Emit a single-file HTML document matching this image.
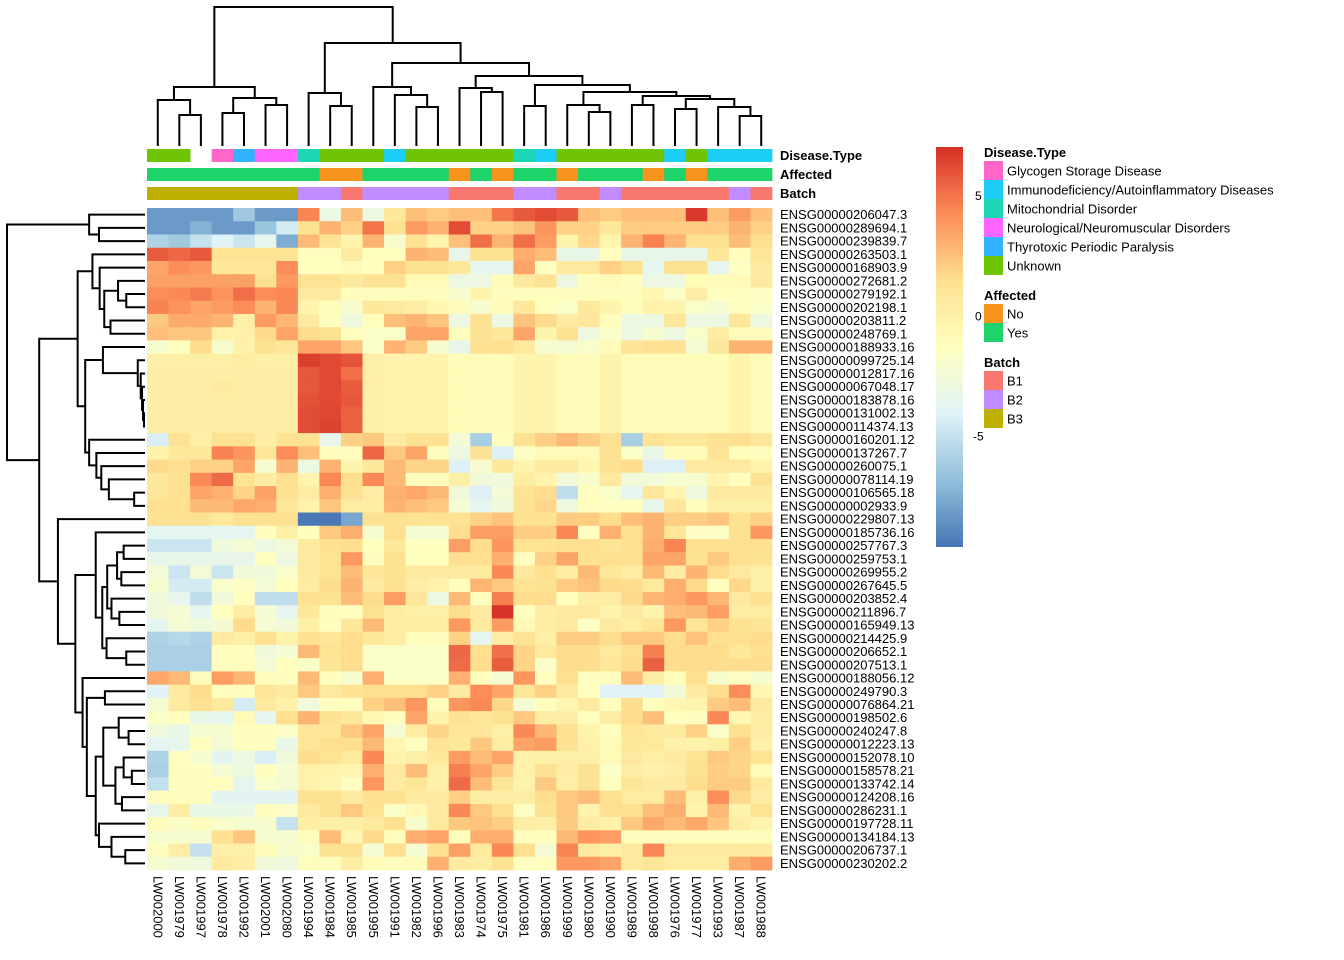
<!DOCTYPE html>
<html><head><meta charset="utf-8"><title>Heatmap</title>
<style>
html,body{margin:0;padding:0;background:#fff;}
svg{display:block;font-family:"Liberation Sans",Arial,sans-serif;}
</style></head>
<body>
<svg id="chart" width="1344" height="960" viewBox="0 0 1344 960" xmlns="http://www.w3.org/2000/svg">
<rect x="0" y="0" width="1344" height="960" fill="#ffffff"/>
<g id="cells"></g>
<g id="annos"></g>
<g id="topDendro" fill="none" stroke="#000" stroke-width="2"></g>
<g id="leftDendro" fill="none" stroke="#000" stroke-width="2"></g>
<g id="rowLabels" font-size="13" fill="#000"></g>
<g id="colLabels" font-size="13" fill="#000"></g>
<g font-size="13" font-weight="bold" fill="#000">
<text x="780" y="160">Disease.Type</text>
<text x="780" y="179">Affected</text>
<text x="780" y="198">Batch</text>
</g>
<defs>
<linearGradient id="grad" x1="0" y1="1" x2="0" y2="0">
<stop offset="0" stop-color="#4575B4"/><stop offset="0.1667" stop-color="#91BFDB"/><stop offset="0.3333" stop-color="#E0F3F8"/><stop offset="0.5" stop-color="#FFFFBF"/><stop offset="0.6667" stop-color="#FEE090"/><stop offset="0.8333" stop-color="#FC8D59"/><stop offset="1" stop-color="#D73027"/>
</linearGradient>
</defs>
<rect x="936" y="147" width="27" height="400" fill="url(#grad)"/>
<g id="scaleTicks" font-size="12" fill="#000"></g>
<g id="legend" font-size="13" fill="#000"></g>
</svg>
<script>
const rowNames = ["ENSG00000206047.3","ENSG00000289694.1","ENSG00000239839.7","ENSG00000263503.1","ENSG00000168903.9","ENSG00000272681.2","ENSG00000279192.1","ENSG00000202198.1","ENSG00000203811.2","ENSG00000248769.1","ENSG00000188933.16","ENSG00000099725.14","ENSG00000012817.16","ENSG00000067048.17","ENSG00000183878.16","ENSG00000131002.13","ENSG00000114374.13","ENSG00000160201.12","ENSG00000137267.7","ENSG00000260075.1","ENSG00000078114.19","ENSG00000106565.18","ENSG00000002933.9","ENSG00000229807.13","ENSG00000185736.16","ENSG00000257767.3","ENSG00000259753.1","ENSG00000269955.2","ENSG00000267645.5","ENSG00000203852.4","ENSG00000211896.7","ENSG00000165949.13","ENSG00000214425.9","ENSG00000206652.1","ENSG00000207513.1","ENSG00000188056.12","ENSG00000249790.3","ENSG00000076864.21","ENSG00000198502.6","ENSG00000240247.8","ENSG00000012223.13","ENSG00000152078.10","ENSG00000158578.21","ENSG00000133742.14","ENSG00000124208.16","ENSG00000286231.1","ENSG00000197728.11","ENSG00000134184.13","ENSG00000206737.1","ENSG00000230202.2"];
const colNames = ["LW002000","LW001979","LW001997","LW001978","LW001992","LW002001","LW002080","LW001994","LW001984","LW001985","LW001995","LW001991","LW001982","LW001996","LW001983","LW001974","LW001975","LW001981","LW001986","LW001999","LW001980","LW001990","LW001989","LW001998","LW001976","LW001977","LW001993","LW001987","LW001988"];
const diseaseType = ["Unknown","Unknown",null,"Glycogen Storage Disease","Thyrotoxic Periodic Paralysis","Neurological/Neuromuscular Disorders","Neurological/Neuromuscular Disorders","Mitochondrial Disorder","Unknown","Unknown","Unknown","Immunodeficiency/Autoinflammatory Diseases","Unknown","Unknown","Unknown","Unknown","Unknown","Mitochondrial Disorder","Immunodeficiency/Autoinflammatory Diseases","Unknown","Unknown","Unknown","Unknown","Unknown","Immunodeficiency/Autoinflammatory Diseases","Unknown","Immunodeficiency/Autoinflammatory Diseases","Immunodeficiency/Autoinflammatory Diseases","Immunodeficiency/Autoinflammatory Diseases"];
const affected = ["Yes","Yes","Yes","Yes","Yes","Yes","Yes","Yes","No","No","Yes","Yes","Yes","Yes","No","Yes","No","Yes","Yes","No","Yes","Yes","Yes","No","Yes","No","Yes","Yes","Yes"];
const batch = ["B3","B3","B3","B3","B3","B3","B3","B2","B2","B1","B2","B2","B2","B2","B1","B1","B1","B2","B2","B1","B1","B2","B1","B1","B1","B1","B1","B2","B1"];
const diseaseLevels = ["Glycogen Storage Disease","Immunodeficiency/Autoinflammatory Diseases","Mitochondrial Disorder","Neurological/Neuromuscular Disorders","Thyrotoxic Periodic Paralysis","Unknown"];
const affectedLevels = ["No","Yes"];
const batchLevels = ["B1","B2","B3"];
const scaleTicks = [5,0,-5];
const tail = [0.2,-0.2,-0.2,-0.2,-0.9,-0.9,-0.9,-0.3,-0.3,-0.9,-0.9,-0.3,-0.9,-0.9,-0.9,-0.9,-0.9,-0.3,-1];
const values = [
[-8.2,-8.2,-8.2,-8.2,-6.3,-8.2,-8.2,4.5,-3,2.7,-3,0.8,2.6,2.2,2.6,2.6,5,5.8,6.2,5.8,2.6,2.2,2.6,2.6,2.6,6.8,2.6,3.8,2.6],
[-8.2,-8.2,-7.3,-8.2,-8.2,-6.5,-4.5,1.3,3,2,5,1.3,3.8,3,6.2,2,2,2.5,4,2,2,0.8,2.2,2.2,2.2,2.2,2.2,3,2],
[-5.8,-6.3,-5,-4,-4.8,-3.5,-7.5,2.8,1.2,-0.3,3,-2,1.2,-0.3,2.6,5.2,3,5.2,3.8,-0.3,1.8,-0.3,3,4.6,3,1.5,1.3,2.7,1.5],
[5.7,5.4,5.8,1.2,1.2,1.2,1.2,-1.2,-1.2,0.5,-1.3,-1.3,3,2.7,-3.3,1.3,1.3,3.2,2.7,-3.3,-3.3,-1.2,-3.3,-3.3,-3.3,-3.3,1,-1.2,1],
[3.5,4.3,3.9,0.9,0.9,0.9,4.3,-1.3,-1.3,-0.8,-1.3,2,1.3,1.3,0.8,-3.5,-3.5,3.5,-1.3,0.7,0.7,2,1.3,-3.5,1.3,1.3,-3.5,-1.5,0.7],
[3.6,3.6,3.6,3.6,3.6,1.3,3.9,1.2,1.2,0.6,1.2,1.2,-0.8,-0.8,-3,-3,-0.9,0.7,1.2,-3,-1.2,-0.8,-1.2,-3,-3,-1,-1,-0.8,0.7],
[4.3,4.4,4.8,4.1,5.2,4.3,4.4,0.5,0.5,-1.1,-1.1,-1.1,-1.1,-1.1,-2,-0.3,-1.1,-1.1,-1.1,-1.1,-1.1,-1.1,-1.1,-0.5,-1.6,0.3,-1.3,-1.3,-1.5],
[4.6,4.1,3.5,3.8,4.3,3,4.4,-0.3,-1.1,-2,0.8,0.6,0.3,-0.5,-1,-2,-1,0.8,-1.2,-1.8,0.8,-0.3,-1.1,-0.1,-0.3,-1.8,-2.2,-1.4,-1.6],
[2.3,3.3,3.3,3,0.1,3.8,2.9,0.5,-1.2,-2.8,-1.1,2.6,3,2.4,-3,1.3,-3,2.5,1.7,0.4,0.9,-1.1,-3,-3,0.9,-3,-3,0.9,-3],
[2.6,2.4,2.4,0,0,1.7,3.5,1.6,1.3,-1.1,-1.6,-1.6,3.5,3.5,-1.1,1.3,0.8,3.5,-0.3,1.3,-2.8,-1.6,-3,-2,-3,-1.8,0.3,-1,-1],
[-2,-1.2,1.6,-2,0,1.3,0.8,3.5,3.5,2.4,-1.8,3,2.2,-2,-3.3,1.4,1.5,0.6,-2,-2.3,-1.8,-0.8,1.1,1.4,1.4,-2.2,0.8,3,3],
[0.2,0.2,0.2,0.2,0.4,0.2,0.2,6.6,6.3,6.0].concat(tail),
[0.3,0.3,0.3,0.3,0.3,0.3,0.3,5.9,6.3,5.2].concat(tail),
[0.3,0.3,0.3,0.5,0.3,0.3,0.3,5.9,6.3,5.7].concat(tail),
[0.3,0.3,0.3,0.3,0.3,0.3,0.3,6.1,6.3,5.9].concat(tail),
[0.3,0.3,0.3,0.3,0.3,0.3,0.3,6.2,6.4,5.6].concat(tail),
[0.3,0.3,0.3,0.3,0.3,0.3,0.3,6.2,6.5,5.6].concat(tail),
[-4.3,1.3,0.2,1.3,1.3,0.3,1.3,1.3,-3.3,2,2.3,0.5,1.3,1.3,-2.4,-6,-1.2,1.3,2.1,2.8,2.1,1.3,-6,1.2,0.8,0.8,1.3,1.5,0.9],
[-0.2,0.8,0.8,4.6,4,0.9,4.3,2.6,-1.2,-1.2,5.4,2.3,3.5,-1.2,-3,1.3,-4.2,-1.5,-0.8,-0.8,-0.8,1.3,-1.6,-3.2,-1,-1,1.1,-1.1,-1.1],
[1.7,1.5,2,2,3.5,-2,3,-2.9,3,-0.3,0.8,2.8,1.9,1.9,-4.2,-2,0.8,-0.3,0.5,0.5,-0.5,1.3,1.6,-4.2,-4.2,0.7,0.7,0.7,-0.2],
[0.8,1.3,4.4,5.3,1.2,0.4,1.5,-0.2,4.4,1.5,4.4,2.8,-1.1,-1.1,0.2,-2.6,-2.6,0.4,-0.2,-2.6,-1.9,0.7,-2.6,-2.6,-2,-2,-0.4,-1.2,1.4],
[0.9,1.4,3.5,3.1,1.9,3.6,1.3,0.4,3.1,1.3,0.3,3.1,3.4,2.8,-2.6,-4.2,-2.4,1.2,1.6,-5.2,-1.2,-1.8,-3.5,0.9,-0.4,-2.8,0.7,0.6,0.5],
[1.5,1.5,2.8,2.8,3.4,3.2,0.9,-0.1,2.4,0.4,0.4,3,2.6,2.3,-2.2,-3.6,-2.6,1.3,1.8,-2.8,-1.2,-1.4,-1.4,-3.4,0.9,-1.1,0.2,0.2,0.2],
[1.3,1.3,1.3,0.8,1.3,1.3,1.3,-9.5,-9.5,-7.8,1.3,1.3,1.3,1.3,1.3,2,2.5,1.3,1.3,2.2,2.2,1.6,2.6,3,2.1,2.1,2.4,1.3,2],
[-3.6,-3.6,-3.6,-3.6,-3.6,-1.2,0.2,-1.2,2.3,3.2,-2,1.5,-2.2,-2.2,1.6,3.7,3.7,2.1,2.1,4.4,-1.2,3.1,1.4,3,1,-1.5,-1.5,1.3,3.9],
[-4.8,-4.8,-4.8,-2.7,-2.2,-3,-2.4,0.6,1.4,1.6,-1.3,0.8,-1.3,-1.3,3.7,1.6,4,1.2,1.2,1.5,1.5,1.1,1.5,3.2,4.5,1.5,1.5,1.5,1.5],
[-3.3,-3.3,-3.3,-3.3,-3.3,-1.2,-3,0.6,1.2,3.9,-1.2,1.3,-1.3,-1.3,1.5,1.5,3.1,-1.2,2,3.5,1.4,1.5,1.5,3.5,3.5,1.3,2.3,1.5,1.3],
[-2.4,-4.8,-2.4,-4.8,-2.5,-2.5,-1.8,0.6,1.2,2.7,0.9,1.3,0.6,0.6,0.6,0.6,4.4,0.6,1.5,0.4,2.8,0.9,0.4,2.8,0.4,3,1.6,0.6,0.2],
[-2,-4.5,-4.5,-1.8,-1.4,-2.4,-1.2,0.4,1.6,3,0.5,1.3,0.3,0,-1.2,3,2.3,1.2,1.3,2.2,2.5,1.7,1.6,0.6,3.2,1.7,-1.3,1.8,0],
[-2.6,-3.5,-5.2,-2.6,-1.2,-5.2,-5.2,1.4,1.3,2.7,1.6,3.7,0.9,-3,2.8,-1.2,4.7,1.6,1.6,-1.3,0.3,0.4,1.7,2.9,3.2,3.9,2.9,0.6,1.5],
[-2.6,-2.2,-3.5,-1.3,0.4,-2.2,-3.6,0.8,-1.2,-1.3,1.3,0.4,0.2,0.2,1.6,0.5,7.0,-1.3,0.3,0.7,0.7,-0.2,0.7,-0.2,2.6,2.8,3.7,0.4,0.4],
[-3.6,-2.2,-2.7,-2.3,1.7,-2.2,-2.6,0.1,-1.2,0.9,2.8,0.4,0.4,0.4,3.9,0.7,3.8,-0.8,0.4,0.6,-1.5,0.6,0.3,1,3.9,1,2,1.3,1],
[-5.8,-5.5,-5.8,0.6,0.2,1.5,-0.1,1.4,0.9,1.6,0.8,0.4,-1.1,-1.1,2,-3.5,0.3,1.2,0.1,2.2,2.2,1.6,2.3,2.3,1.6,2.5,1.5,1.5,1.6],
[-5.9,-5.9,-5.9,-1.2,-1.2,-2.6,-2.2,2.8,1.2,1.6,-1.7,-1.7,-1.7,-1.7,5.4,1.5,5.1,1.9,0.7,1.6,1.6,0.6,1.5,4.7,1.6,1.6,1.6,0.8,1.5],
[-5.9,-5.9,-5.9,-1.2,-1.2,-2.2,-1.2,-1.6,1,1.6,-1.7,-1.7,-1.7,-1.7,5.3,1.6,5.7,1.9,-1.8,1.6,1.6,0.9,1.6,5.6,1.6,1.6,1.6,1.6,1.6],
[3.4,2.8,-1.1,3.7,2.9,-1.1,-1.2,2.8,-1.2,-2,3.1,-1.6,-1.6,-1.6,3.1,-1.2,-2.2,4,-1.2,1.5,-1.2,-1.2,2.7,0.3,-1.1,1.4,-2,-1.4,-2],
[-4,0.6,1.6,-1.2,-1.2,1,0.5,2.3,0.6,1.2,1.5,1.5,1.5,2,0.5,4.3,3.5,1,2,0.5,-1.2,-4,-4,-4,-2.5,0.5,1.6,4.3,-0.5],
[-2.2,0.5,1.4,0.6,-4.5,0.6,0,-2.6,-1.2,-1.2,2,2.6,4,-1.1,4,4.4,1.8,-2.2,-1.2,-0.5,0.6,-1.2,1.6,-1.2,-0.5,-0.3,2.2,2.7,0.5],
[-1.6,-1.2,-3.3,-3.5,-0.8,-3.5,1.5,3,1.3,0.8,-0.6,-1.2,3.5,-0.3,1.3,0.9,1.3,2.3,0.3,0.3,-1.2,0.4,1.6,2.6,-1.3,-1.2,4.4,-0.5,0.4],
[-2.7,-3.2,-2,-2,-1.2,-1.1,-1.7,0.9,0.9,2.3,3.5,-2.2,0.4,1.9,0.9,0.9,0.2,4.4,2.9,1.4,-0.3,-1.2,1,0.6,0.6,2,-1.8,1.5,0.3],
[-3.8,-3.4,-1.2,-2.3,-1.2,-1.2,-3.2,1,1.5,1.5,2.8,-0.5,-1.2,1.1,0.8,2.3,0.4,3.5,3.7,1.4,0,-0.8,0.8,0.8,0,-0.1,0.2,2.1,0],
[-5.8,-1.2,-2,-3.8,-3,-4.3,-2.6,1.6,1.2,0.6,4.4,-0.3,0.2,0.8,3.8,2.7,3.5,0,0.1,0.2,0.2,-0.8,0.7,0.2,0.5,1.2,2.3,1.9,1.2],
[-5.9,-1.1,-1.2,-2.2,-2.9,-1.2,-2.2,0,-0.2,-0.4,3.1,0.6,2.7,0.2,4.7,3.5,2.1,0,1.3,0.3,1.3,-1.6,0.3,0,0.3,1.3,2.1,1.9,-0.8],
[-5.1,-1.2,-1.2,-1.2,-3.5,-1.8,-2.3,0,-0.4,-1.4,4,0.4,1,0,5.3,2.7,1,-0.3,2.3,0.2,1.3,-1.2,1,0.5,0.5,1.6,2.2,2.2,0.6],
[-1.1,-1.1,-1.1,-3.8,-3.8,-3.8,-3.8,1.3,1.3,0.5,1.4,1.3,0.5,0.5,2,0.3,0.3,0.3,1.6,2.3,2.7,1.5,0.4,0.4,2.7,0.2,4.3,1.7,0.3],
[-3.4,0.4,-3.2,-3.2,-3.2,-1.2,-1.7,0.7,1.3,2.3,1.2,-1.6,-0.6,0.7,4.4,2.3,1.5,-1.5,1.3,2.3,-0.2,1.5,1.5,2.6,3.2,-0.2,2.8,-0.3,1.2],
[-1.1,-1.7,-1.1,-1.8,-2,-2,-5,0.2,0.2,0.2,0.6,1.4,-2,0.6,2.3,2.5,2.1,0.3,0.2,2.2,0.3,-0.1,2.3,3.4,2.8,3.4,2.4,0.3,-0.3],
[-2,-2,-2,1.4,2.4,-2,-2,-1.1,2.7,-0.5,1.7,-1.1,3.2,3.5,-1.1,3.2,3.2,-1.2,-1.2,2.8,4,3.7,-1.1,-1.1,-1.1,-1.1,-1.1,-1.2,-1.1],
[-1.2,0.3,-5,0.2,0.2,-1,-1.9,-1.8,1.3,1.3,-2.2,1.5,-2.2,1.4,3.6,0.7,4.4,1.5,-2.2,4.5,0.6,0.1,0.7,4.4,0.7,0.7,0.7,0.7,0.6],
[-2.1,-2.6,-2.8,0.6,0.3,-2.6,-2.8,-1.1,-1.1,0.3,-0.9,-1.1,-1.1,3.1,0.5,0.4,1.3,-1.2,-1.2,3.9,3.9,3.5,0.5,1,0.4,0.4,0.4,3.2,3.8]
];
// dendrogram merges: [left, right, height]
const colTree = [[[0,[1,2,31],46],[[3,4,33],[5,6,41],48],59],[[7,[8,9,40],53],[[10,[11,[12,13,39],51],59],[[14,[15,16,54],58],[[17,18,40],[[19,[20,21,34],41],[[22,23,41],[[24,25,37],[26,[27,28,30],39],47],50],54],61],70],83],103],139];
const rowTree = [[0,[1,2,140],170],
 [[[3,[4,[[5,[6,7,57],82],[8,9,105],124],138],160],
   [[10,[11,[12,[13,[14,[15,16,3],6],9],13],22],128],[17,[18,[19,[20,[21,22,33],110],133],148],170],182],205],
  [23,[[24,[[[[25,26,65],[27,28,72],85],[29,[30,31,78],102],115],[32,[33,34,57],117],130],150],
       [35,[[36,37,122],[[[38,[39,40,50],80],[[41,[42,43,40],65],[44,45,70],90],127],[46,[47,[48,49,60],102],140],150],177],190],212],265],322],420];

const NS = "http://www.w3.org/2000/svg";
const X0 = 147, Y0 = 208, CW = 625/29, CH = 662/50;
const LO = -9.6, HI = 7.05;
const pal = [[0x45,0x75,0xB4],[0x91,0xBF,0xDB],[0xE0,0xF3,0xF8],[0xFF,0xFF,0xBF],[0xFE,0xE0,0x90],[0xFC,0x8D,0x59],[0xD7,0x30,0x27]];
const annoColors = {"Glycogen Storage Disease":"#FF66C8","Immunodeficiency/Autoinflammatory Diseases":"#1CCDF5","Mitochondrial Disorder":"#1DD6B3","Neurological/Neuromuscular Disorders":"#FF66FF","Thyrotoxic Periodic Paralysis":"#33B3FF","Unknown":"#6FC505","No":"#F7941D","Yes":"#1DD36A","B1":"#F8786F","B2":"#C08CFF","B3":"#BDB000"};
function color(v){
  let t = (v-LO)/(HI-LO); t = Math.max(0,Math.min(1,t));
  const p = t*6, i = Math.min(5,Math.floor(p)), f = p-i;
  const c = pal[i].map((a,k)=>Math.round(a+(pal[i+1][k]-a)*f));
  return "rgb("+c.join(",")+")";
}
const xOf = j => X0 + CW*j;
const yOf = i => Y0 + CH*i;
function mk(tag, attrs, parent){
  const el = document.createElementNS(NS, tag);
  for (const k in attrs) el.setAttribute(k, attrs[k]);
  parent.appendChild(el); return el;
}
// cells
const gc = document.getElementById("cells");
values.forEach((row,i)=>row.forEach((v,j)=>{
  const r = mk("rect",{x:xOf(j).toFixed(2),y:yOf(i).toFixed(2),width:(CW+0.4).toFixed(2),height:(CH+0.4).toFixed(2),fill:color(v)},gc);
  
  
}));
// annotations
const ga = document.getElementById("annos");
[[diseaseType,149,"disease-type"],[affected,168,"affected"],[batch,187,"batch"]].forEach(([arr,y,nm])=>{
  arr.forEach((v,j)=>{
    if(!v) return;
    const r = mk("rect",{x:xOf(j).toFixed(2),y:y,width:(CW+0.4).toFixed(2),height:13,fill:annoColors[v]},ga);
    
    
  });
});
// dendrograms
function drawTree(node, g, leafPos, hPos, horizontal){
  if (typeof node === "number") return {p:leafPos(node), h:0};
  const a = drawTree(node[0],g,leafPos,hPos,horizontal), b = drawTree(node[1],g,leafPos,hPos,horizontal);
  const H = node[2];
  let d;
  if (!horizontal) d = `M${a.p},${hPos(a.h)}V${hPos(H)}H${b.p}V${hPos(b.h)}`;
  else d = `M${hPos(a.h)},${a.p}H${hPos(H)}V${b.p}H${hPos(b.h)}`;
  const path = mk("path",{d:d},g);
  
  
  return {p:(a.p+b.p)/2, h:H};
}
drawTree(colTree, document.getElementById("topDendro"), j=>xOf(j)+CW/2, h=>146-h, false);
drawTree(rowTree, document.getElementById("leftDendro"), i=>yOf(i)+CH/2, h=>145-h*138/420, true);
// labels
const gr = document.getElementById("rowLabels");
rowNames.forEach((n,i)=>{
  const t = mk("text",{x:780,y:(yOf(i)+CH/2+4.5).toFixed(2)},gr);
  t.textContent = n;
  
  
});
const gcl = document.getElementById("colLabels");
colNames.forEach((n,j)=>{
  const x = xOf(j)+CW/2-4.5;
  const t = mk("text",{x:0,y:0,transform:`translate(${x.toFixed(2)},876) rotate(90)`},gcl);
  t.textContent = n;
  
  
});
// color scale ticks
const gs = document.getElementById("scaleTicks");
scaleTicks.forEach(v=>{
  const y = 147 + (HI-v)/(HI-LO)*400;
  const t = mk("text",{x:v<0?973:975,y:(y+4).toFixed(1)},gs);
  t.textContent = String(v);
  
  
});
// legend
const gl = document.getElementById("legend");
let ly = 143;
[["Disease.Type",diseaseLevels],["Affected",affectedLevels],["Batch",batchLevels]].forEach(([title,levels])=>{
  const tt = mk("text",{x:984,y:ly+14,"font-weight":"bold"},gl);
  tt.textContent = title;
  
  
  ly += 18;
  levels.forEach(lv=>{
    const r = mk("rect",{x:984,y:ly,width:19,height:19,fill:annoColors[lv]},gl);
    
    
    const t = mk("text",{x:1007,y:ly+14.5},gl);
    t.textContent = lv;
    
    
    ly += 19;
  });
  ly += 11;
});
</script>
</body></html>
